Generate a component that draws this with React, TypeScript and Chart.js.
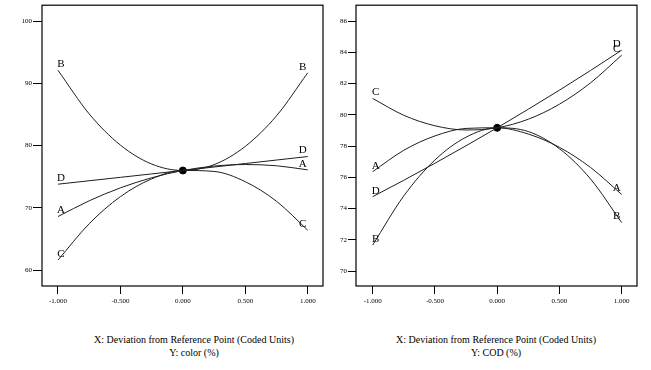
import React, { useEffect, useRef } from "react";
import { Chart, registerables } from "chart.js";

Chart.register(...registerables);

// ---- data ----
const X_VALUES = [-1, -0.75, -0.5, -0.25, 0, 0.25, 0.5, 0.75, 1];
const X_TICKS = [-1, -0.5, 0, 0.5, 1];

// Panel 1: color (%)
const COLOR_A = [68.6, 71.13, 73.21, 74.83, 76.0, 76.71, 76.96, 76.76, 76.1];
const COLOR_B = [92.1, 85.09, 80.08, 77.04, 76.0, 76.94, 79.88, 84.79, 91.7];
const COLOR_C = [61.6, 67.45, 71.8, 74.65, 76.0, 75.85, 74.2, 71.05, 66.4];
const COLOR_D = [73.8, 74.35, 74.9, 75.45, 76.0, 76.56, 77.12, 77.68, 78.24];
const COLOR_CENTER = 76.0;
const COLOR_Y_TICKS = [60, 70, 80, 90, 100];

// Panel 2: COD (%)
const COD_A = [76.36, 77.73, 78.65, 79.13, 79.17, 78.77, 77.92, 76.63, 74.9];
const COD_B = [71.66, 74.81, 77.11, 78.57, 79.17, 78.93, 77.83, 75.89, 73.1];
const COD_C = [81.05, 79.97, 79.3, 79.03, 79.17, 79.72, 80.68, 82.05, 83.82];
const COD_D = [74.76, 75.81, 76.9, 78.02, 79.17, 80.36, 81.58, 82.84, 84.14];
const COD_CENTER = 79.17;
const COD_Y_TICKS = [70, 72, 74, 76, 78, 80, 82, 84, 86];

const SERIES_LETTERS = ["A", "B", "C", "D"];

const FONT = "'Liberation Serif', 'Times New Roman', serif";

type PanelProps = {
  series: number[][];
  center: number;
  yTicks: number[];
  yMin: number;
  yMax: number;
  xMin: number;
  xMax: number;
  left: number;
  width: number;
  height: number;
  yAxisWidth: number;
  padTop: number;
  padRight: number;
  xAxisHeight: number;
  yTickLen: number;
};

function Panel(p: PanelProps) {
  const ref = useRef<HTMLCanvasElement | null>(null);
  useEffect(() => {
    if (!ref.current) return;
    const curves = p.series.map((arr, i) => ({
      type: "scatter" as const,
      letter: SERIES_LETTERS[i],
      data: X_VALUES.map((x, j) => ({ x, y: arr[j] })),
      showLine: true,
      borderColor: "#1e1e1e",
      borderWidth: 1,
      pointRadius: 0,
      cubicInterpolationMode: "monotone" as const,
      fill: false,
    }));
    const centerDs = {
      type: "scatter" as const,
      data: [{ x: 0, y: p.center }],
      pointRadius: 3.5,
      pointBackgroundColor: "#000",
      pointBorderColor: "#000",
      showLine: false,
    };
    const labelPlugin = {
      id: "letters",
      afterDatasetsDraw(chart: any) {
        const ctx = chart.ctx;
        const xs = chart.scales.x;
        const ys = chart.scales.y;
        ctx.save();
        ctx.font = `11px ${FONT}`;
        ctx.fillStyle = "#000";
        ctx.textAlign = "center";
        ctx.textBaseline = "middle";
        chart.data.datasets.forEach((ds: any) => {
          if (!ds.letter) return;
          const first = ds.data[0];
          const last = ds.data[ds.data.length - 1];
          ctx.fillText(ds.letter, xs.getPixelForValue(first.x) + 3, ys.getPixelForValue(first.y) - 6);
          ctx.fillText(ds.letter, xs.getPixelForValue(last.x) - 5, ys.getPixelForValue(last.y) - 6);
        });
        ctx.restore();
      },
    };
    const boxPlugin = {
      id: "box",
      afterDraw(chart: any) {
        const a = chart.chartArea;
        const ctx = chart.ctx;
        ctx.save();
        ctx.strokeStyle = "#000";
        ctx.lineWidth = 1.2;
        ctx.strokeRect(a.left, a.top, a.right - a.left, a.bottom - a.top);
        ctx.restore();
      },
    };
    const chart = new Chart(ref.current, {
      type: "scatter",
      data: { datasets: [...curves, centerDs] as any },
      options: {
        animation: false,
        responsive: false,
        maintainAspectRatio: false,
        layout: { padding: { top: p.padTop, right: p.padRight, left: 0, bottom: 0 } },
        plugins: { legend: { display: false }, tooltip: { enabled: false } },
        scales: {
          x: {
            type: "linear",
            min: p.xMin,
            max: p.xMax,
            afterBuildTicks: (s: any) => {
              s.ticks = X_TICKS.map((v) => ({ value: v }));
            },
            afterFit: (s: any) => {
              s.height = p.xAxisHeight;
            },
            border: { display: false },
            grid: { drawOnChartArea: false, drawTicks: true, tickLength: 8, color: "#000", lineWidth: 1 },
            ticks: {
              autoSkip: false,
              maxRotation: 0,
              padding: 3,
              color: "#000",
              font: { family: FONT, size: 7 },
              callback: (v: any) => Number(v).toFixed(3),
            },
          },
          y: {
            type: "linear",
            min: p.yMin,
            max: p.yMax,
            afterBuildTicks: (s: any) => {
              s.ticks = p.yTicks.map((v) => ({ value: v }));
            },
            afterFit: (s: any) => {
              s.width = p.yAxisWidth;
            },
            border: { display: false },
            grid: { drawOnChartArea: false, drawTicks: true, tickLength: p.yTickLen, color: "#000", lineWidth: 1 },
            ticks: {
              padding: 1,
              color: "#000",
              font: { family: FONT, size: 7 },
              callback: (v: any) => String(v),
            },
          },
        },
      },
      plugins: [labelPlugin, boxPlugin],
    } as any);
    return () => chart.destroy();
  }, []);
  return (
    <canvas
      ref={ref}
      width={p.width}
      height={p.height}
      style={{ position: "absolute", left: p.left, top: 0, width: p.width, height: p.height }}
    />
  );
}

function Title({ cx, lines }: { cx: number; lines: string[] }) {
  return (
    <div
      style={{
        position: "absolute",
        left: cx - 150,
        top: 333,
        width: 300,
        textAlign: "center",
        fontFamily: FONT,
        fontSize: 10,
        lineHeight: "13px",
        color: "#000",
        whiteSpace: "nowrap",
      }}
    >
      {lines.map((l, i) => (
        <div key={i}>{l}</div>
      ))}
    </div>
  );
}

export default function App() {
  return (
    <div style={{ position: "absolute", left: 0, top: 0, width: 651, height: 370, background: "#fff", overflow: "hidden" }}>
      <Panel
        series={[COLOR_A, COLOR_B, COLOR_C, COLOR_D]}
        center={COLOR_CENTER}
        yTicks={COLOR_Y_TICKS}
        yMin={57.44}
        yMax={102.56}
        xMin={-1.128}
        xMax={1.122}
        left={0}
        width={330}
        height={310}
        yAxisWidth={42}
        padTop={4}
        padRight={7}
        xAxisHeight={24}
        yTickLen={9}
      />
      <Panel
        series={[COD_A, COD_B, COD_C, COD_D]}
        center={COD_CENTER}
        yTicks={COD_Y_TICKS}
        yMin={69.04}
        yMax={87.02}
        xMin={-1.134}
        xMax={1.123}
        left={330}
        width={320}
        height={310}
        yAxisWidth={26}
        padTop={5}
        padRight={13}
        xAxisHeight={24}
        yTickLen={8}
      />
      <Title cx={194} lines={["X: Deviation from Reference Point (Coded Units)", "Y: color (%)"]} />
      <Title cx={496} lines={["X: Deviation from Reference Point (Coded Units)", "Y: COD (%)"]} />
    </div>
  );
}
